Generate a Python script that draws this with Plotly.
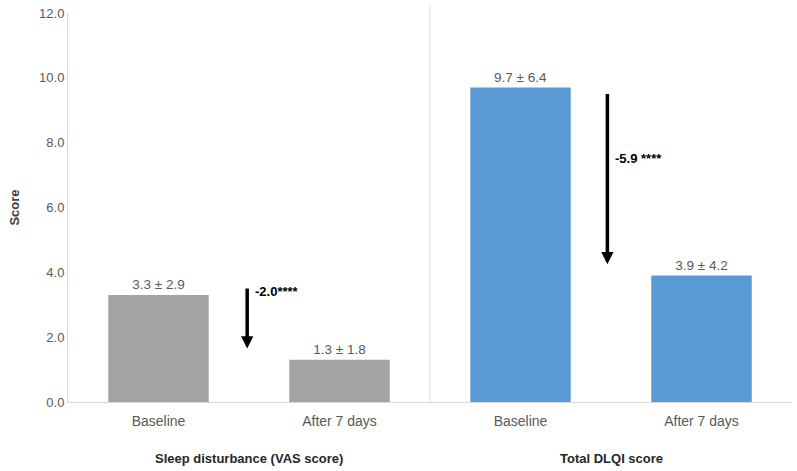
import plotly.graph_objects as go

# Data
groups = ["Sleep disturbance (VAS score)", "Total DLQI score"]
tick_labels = ["Baseline", "After 7 days", "Baseline", "After 7 days"]
sleep_means = [3.3, 1.3]
sleep_sds = [2.9, 1.8]
dlqi_means = [9.7, 3.9]
dlqi_sds = [6.4, 4.2]
changes = ["-2.0****", "-5.9 ****"]

positions = [0, 1, 2, 3]
font_family = "Liberation Sans, Arial, sans-serif"

fig = go.Figure()

fig.add_trace(go.Bar(
    x=positions[:2], y=sleep_means,
    marker=dict(color="#A5A3A2", line=dict(width=0)),
    width=0.555,
    text=[f"{m:.1f} ± {s:.1f}" for m, s in zip(sleep_means, sleep_sds)],
    textposition="outside", cliponaxis=False,
    textfont=dict(color="#595959", size=13.5, family=font_family),
    showlegend=False,
))
fig.add_trace(go.Bar(
    x=positions[2:], y=dlqi_means,
    marker=dict(color="#5B9BD5", line=dict(width=0)),
    width=0.555,
    text=[f"{m:.1f} ± {s:.1f}" for m, s in zip(dlqi_means, dlqi_sds)],
    textposition="outside", cliponaxis=False,
    textfont=dict(color="#595959", size=13.5, family=font_family),
    showlegend=False,
))

# Arrows showing change
arrow_x = [0.49, 2.48]
arrow_top = [3.55, 9.55]
arrow_bottom = [1.65, 4.25]
label_y = [3.4, 7.5]
for xa, yt, yb, ly, txt in zip(arrow_x, arrow_top, arrow_bottom, label_y, changes):
    fig.add_annotation(
        x=xa, y=yb, ax=xa, ay=yt, xref="x", yref="y", axref="x", ayref="y",
        showarrow=True, arrowhead=2, arrowsize=0.7, arrowwidth=3.5, arrowcolor="#000000", text="",
    )
    fig.add_annotation(
        x=xa + 0.03, y=ly, xref="x", yref="y", text=f"<b>{txt}</b>",
        showarrow=False, xanchor="left", yanchor="middle",
        font=dict(size=13, color="#000000", family=font_family),
    )

# Group labels
for gx, g in zip([0.5, 2.5], groups):
    fig.add_annotation(
        x=gx, y=-0.144, xref="x", yref="paper", text=f"<b>{g}</b>",
        showarrow=False, yanchor="middle",
        font=dict(size=13, color="#262626", family=font_family),
    )

# Divider
fig.add_shape(type="line", x0=1.5, x1=1.5, y0=0, y1=1.02, xref="x", yref="paper",
              line=dict(color="#D9D9D9", width=1))

fig.update_layout(
    width=797, height=471,
    margin=dict(l=68, r=5, t=13, b=69),
    plot_bgcolor="white", paper_bgcolor="white",
    font=dict(family=font_family, color="#595959", size=13),
    xaxis=dict(
        range=[-0.5, 3.5], tickvals=positions, ticktext=tick_labels,
        showgrid=False, zeroline=False, showline=True, linecolor="#D9D9D9",
        ticks="", tickfont=dict(size=14, color="#595959"), automargin=False,
        ticklabelstandoff=6,
    ),
    yaxis=dict(
        range=[0, 12], tickvals=[0, 2, 4, 6, 8, 10, 12], tickformat=".1f",
        showgrid=False, zeroline=False, showline=True, linecolor="#D9D9D9",
        ticks="", tickfont=dict(size=13, color="#595959"), automargin=False,
        ticklabeloverflow="allow",
        title=dict(text="<b>Score</b>", font=dict(size=13, color="#404040"), standoff=16),
    ),
)

fig.write_html("out.html", config={"displayModeBar": False},
               post_script="document.body.style.margin='0';")
